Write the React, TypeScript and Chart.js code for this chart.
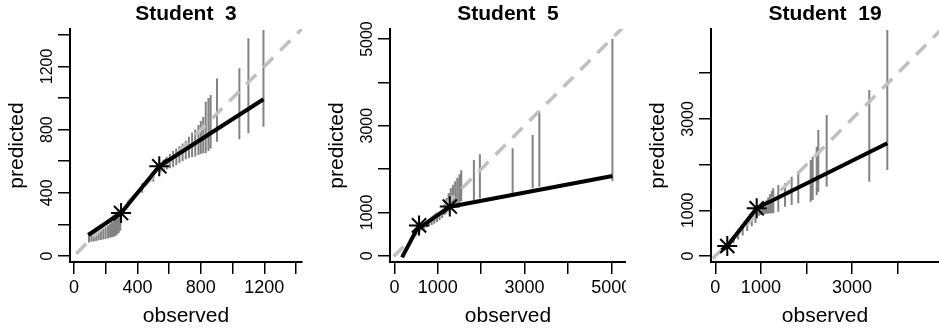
import React, { useEffect, useRef } from "react";
import { Chart, registerables } from "chart.js";
Chart.register(...registerables);

const FONT = "'Liberation Sans', Arial, Helvetica, sans-serif";

// ---------- Student 3 ----------
const s3Title = "Student  3";
const s3Obs = [95, 110, 125, 140, 155, 170, 185, 200, 215, 228, 240, 252, 262, 272, 282, 292, 430, 500, 545, 565, 585, 605, 625, 645, 665, 685, 705, 725, 745, 765, 785, 800, 815, 831, 848, 862, 902, 1043, 1100, 1195];
const s3Lo = [85, 90, 92, 95, 100, 102, 105, 108, 112, 115, 118, 122, 128, 135, 145, 160, 400, 470, 530, 540, 548, 555, 563, 575, 588, 600, 612, 620, 625, 630, 640, 645, 650, 650, 665, 681, 723, 739, 777, 818];
const s3Hi = [130, 135, 140, 150, 155, 165, 175, 185, 195, 205, 215, 228, 240, 250, 262, 275, 460, 530, 590, 610, 628, 645, 665, 680, 695, 712, 730, 755, 780, 800, 830, 855, 880, 977, 1000, 1019, 1124, 1188, 1378, 1430];
const s3FitX = [90, 297, 538, 1195];
const s3FitY = [133, 272, 568, 992];
const s3KnotX = [297, 538];
const s3KnotY = [272, 568];
const s3XLim = [-25, 1438];
const s3YLim = [-38, 1437];
const s3Ticks = [0, 200, 400, 600, 800, 1000, 1200, 1400];
const s3Labels = [0, 400, 800, 1200];
const s3Diag = [-200, 1700];

// ---------- Student 5 ----------
const s5Title = "Student  5";
const s5Obs = [560, 620, 680, 740, 800, 860, 920, 980, 1040, 1100, 1160, 1200, 1250, 1300, 1350, 1400, 1450, 1500, 1540, 1832, 1970, 2725, 3187, 3340, 5025];
const s5Lo = [560, 590, 620, 650, 680, 710, 740, 780, 820, 870, 940, 980, 1020, 1060, 1100, 1140, 1180, 1220, 1260, 1286, 1325, 1441, 1556, 1594, 1720];
const s5Hi = [690, 700, 720, 750, 790, 830, 870, 910, 960, 1020, 1200, 1330, 1450, 1560, 1640, 1720, 1800, 1880, 1975, 2208, 2342, 2480, 2788, 3326, 5000];
const s5FitX = [176, 510, 1276, 5025];
const s5FitY = [-37, 595, 1131, 1840];
const s5KnotX = [568, 1276];
const s5KnotY = [700, 1135];
const s5XLim = [-102, 5338];
const s5YLim = [-145, 5232];
const s5Ticks = [0, 1000, 2000, 3000, 4000, 5000];
const s5Labels = [0, 1000, 3000, 5000];
const s5Diag = [-800, 6500];

// ---------- Student 19 ----------
const s19Title = "Student  19";
const s19Obs = [300, 400, 500, 600, 700, 800, 880, 960, 1000, 1040, 1080, 1120, 1160, 1200, 1240, 1272, 1382, 1529, 1675, 1820, 2092, 2136, 2224, 2259, 2443, 3377, 3772];
const s19Lo = [180, 280, 360, 450, 550, 650, 720, 880, 900, 910, 920, 925, 930, 932, 934, 934, 969, 1079, 1116, 1153, 1188, 1225, 1335, 1407, 1516, 1626, 1882];
const s19Hi = [300, 400, 520, 620, 740, 860, 950, 1050, 1080, 1120, 1170, 1220, 1280, 1350, 1420, 1481, 1553, 1591, 1735, 1845, 2100, 2173, 2392, 2757, 3085, 3632, 4945];
const s19FitX = [140, 263, 908, 3772];
const s19FitY = [131, 219, 1044, 2466];
const s19KnotX = [263, 908];
const s19KnotY = [219, 1044];
const s19XLim = [-94, 4906];
const s19YLim = [-131, 4967];
const s19Ticks = [0, 1000, 2000, 3000, 4000];
const s19Labels = [0, 1000, 3000];
const s19Diag = [-800, 6500];

type PanelData = {
  title: string;
  obs: number[]; lo: number[]; hi: number[];
  fitX: number[]; fitY: number[];
  knotX: number[]; knotY: number[];
  xLim: number[]; yLim: number[];
  ticks: number[]; labels: number[]; diag: number[];
  padL: number; padR: number;
};

const panels: PanelData[] = [
  { title: s3Title, obs: s3Obs, lo: s3Lo, hi: s3Hi, fitX: s3FitX, fitY: s3FitY, knotX: s3KnotX, knotY: s3KnotY, xLim: s3XLim, yLim: s3YLim, ticks: s3Ticks, labels: s3Labels, diag: s3Diag, padL: 0, padR: 11 },
  { title: s5Title, obs: s5Obs, lo: s5Lo, hi: s5Hi, fitX: s5FitX, fitY: s5FitY, knotX: s5KnotX, knotY: s5KnotY, xLim: s5XLim, yLim: s5YLim, ticks: s5Ticks, labels: s5Labels, diag: s5Diag, padL: 7, padR: 0 },
  { title: s19Title, obs: s19Obs, lo: s19Lo, hi: s19Hi, fitX: s19FitX, fitY: s19FitY, knotX: s19KnotX, knotY: s19KnotY, xLim: s19XLim, yLim: s19YLim, ticks: s19Ticks, labels: s19Labels, diag: s19Diag, padL: 15, padR: 0 },
];

function Panel({ d }: { d: PanelData }) {
  const ref = useRef<HTMLCanvasElement>(null);
  useEffect(() => {
    const segData: { x: number; y: number | null }[] = [];
    d.obs.forEach((x, i) => {
      segData.push({ x, y: d.lo[i] });
      segData.push({ x, y: d.hi[i] });
      segData.push({ x, y: null });
    });
    const fitData = d.fitX.map((x, i) => ({ x, y: d.fitY[i] }));
    const knotData = d.knotX.map((x, i) => ({ x, y: d.knotY[i] }));
    const diagData = d.diag.map((v) => ({ x: v, y: v }));
    const labelCb = (v: any) => (d.labels.includes(Number(v)) ? String(v) : "");
    const setTicks = (s: any) => {
      s.ticks = d.ticks.map((v) => ({ value: v }));
    };

    const chart = new Chart(ref.current!, {
      type: "scatter",
      data: {
        datasets: [
          { data: knotData, pointStyle: "star", pointRadius: 10, pointBorderWidth: 2, borderColor: "#000", backgroundColor: "#000", showLine: false } as any,
          { data: fitData, showLine: true, borderColor: "#000", borderWidth: 4, pointRadius: 0, borderCapStyle: "butt", borderJoinStyle: "round" } as any,
          { data: diagData, showLine: true, borderColor: "#c0c0c0", borderWidth: 3.5, borderDash: [14, 10], pointRadius: 0 } as any,
          { data: segData, showLine: true, spanGaps: false, borderColor: "rgba(90,90,90,0.75)", borderWidth: 2, pointRadius: 0 } as any,
        ],
      },
      options: {
        responsive: false,
        animation: false,
        devicePixelRatio: 1,
        events: [],
        layout: { padding: { left: d.padL, right: d.padR, top: 0, bottom: 0 }, autoPadding: false } as any,
        plugins: {
          legend: { display: false },
          tooltip: { enabled: false },
          title: {
            display: true,
            text: d.title,
            color: "#000",
            fullSize: false,
            font: { family: FONT, size: 21, weight: "bold" },
            padding: { top: 2, bottom: 1.8 },
          } as any,
        },
        scales: {
          x: {
            type: "linear",
            min: d.xLim[0],
            max: d.xLim[1],
            afterBuildTicks: setTicks,
            afterFit: (s: any) => { s.height = 72; s.paddingLeft = 0; s.paddingRight = 0; },
            border: { display: true, color: "#000", width: 2 },
            grid: { display: true, drawOnChartArea: false, drawTicks: true, tickLength: 12, color: "#000", lineWidth: 1.5 },
            ticks: {
              autoSkip: false, minRotation: 0, maxRotation: 0,
              color: "#000", font: { family: FONT, size: 18 }, padding: 3, callback: labelCb,
            },
            title: { display: true, text: "observed", color: "#000", font: { family: FONT, size: 21 }, padding: { top: 0, bottom: 5 } },
          } as any,
          y: {
            type: "linear",
            min: d.yLim[0],
            max: d.yLim[1],
            afterBuildTicks: setTicks,
            afterFit: (s: any) => { s.width = 70; s.paddingTop = 0; s.paddingBottom = 0; },
            border: { display: true, color: "#000", width: 2 },
            grid: { display: true, drawOnChartArea: false, drawTicks: true, tickLength: 12, color: "#000", lineWidth: 1.5 },
            ticks: {
              autoSkip: false, minRotation: 90, maxRotation: 90,
              crossAlign: "center", padding: -7,
              color: "#000", font: { family: FONT, size: 16 }, callback: labelCb,
            },
            title: { display: true, text: "predicted", color: "#000", font: { family: FONT, size: 21 }, padding: { top: 5, bottom: 0 } },
          } as any,
        },
      },
    });
    return () => chart.destroy();
  }, [d]);
  return <canvas ref={ref} width={313} height={334} style={{ display: "block", width: 313, height: 334 }} />;
}

export default function App() {
  return (
    <div style={{ position: "absolute", left: 0, top: 0, width: 939, height: 334, display: "flex", background: "#fff" }}>
      {panels.map((p, i) => (
        <Panel key={i} d={p} />
      ))}
    </div>
  );
}
